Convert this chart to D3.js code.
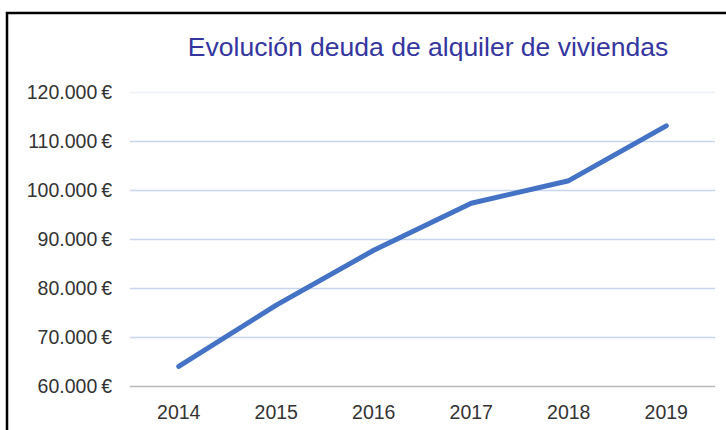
<!DOCTYPE html>
<html>
<head>
<meta charset="utf-8">
<script src="https://cdn.jsdelivr.net/npm/d3@7"></script>
<style>
  body { margin: 0; background: #fff; }
  svg { display: block; font-family: "Liberation Sans", Arial, sans-serif; }
</style>
</head>
<body>
<div id="chart"></div>
<script>
const years = ["2014", "2015", "2016", "2017", "2018", "2019"];
const deuda = [64000, 76500, 87700, 97300, 101900, 113100];
const yTicks = [60000, 70000, 80000, 90000, 100000, 110000, 120000];
const title = "Evolución deuda de alquiler de viviendas";

const width = 726, height = 430;
const margin = {top: 92, right: 11, bottom: 44, left: 130};

const svg = d3.select("#chart").append("svg")
  .attr("width", width)
  .attr("height", height);

// frame
svg.append("path")
  .attr("d", `M7,${height} V13 H${width}`)
  .attr("fill", "none")
  .attr("stroke", "#000")
  .attr("stroke-width", 2.5);

let x = d3.scalePoint()
  .domain(years)
  .range([margin.left, width - margin.right])
  .padding(0.5);

let y = d3.scaleLinear()
  .domain([60000, 120000])
  .range([height - margin.bottom, margin.top]);

let fmt = d => d3.format(",")(d).replace(/,/g, ".") + "\u2009€";

// grid
svg.append("g")
  .selectAll("line")
  .data(yTicks)
  .enter()
  .append("line")
  .attr("x1", margin.left)
  .attr("x2", width - margin.right)
  .attr("y1", d => Math.round(y(d)) + 0.5)
  .attr("y2", d => Math.round(y(d)) + 0.5)
  .attr("stroke", d => d == 60000 ? "#b8b8b8" : d == 120000 ? "#eef1f8" : "#c8d5ee")
  .attr("stroke-width", 1.5);

// y labels
svg.append("g")
  .selectAll("text")
  .data(yTicks)
  .enter()
  .append("text")
  .attr("x", 112)
  .attr("y", d => y(d))
  .attr("dy", "0.36em")
  .attr("text-anchor", "end")
  .attr("font-size", 19.5)
  .attr("fill", "#333")
  .text(fmt);

// x labels
svg.append("g")
  .selectAll("text")
  .data(years)
  .enter()
  .append("text")
  .attr("x", d => x(d))
  .attr("y", 419)
  .attr("text-anchor", "middle")
  .attr("font-size", 19.5)
  .attr("fill", "#333")
  .text(d => d);

// line
let line = d3.line()
  .x((d, i) => x(years[i]))
  .y(d => y(d));

svg.append("path")
  .datum(deuda)
  .attr("d", line)
  .attr("fill", "none")
  .attr("stroke", "#4472c4")
  .attr("stroke-width", 5)
  .attr("stroke-linecap", "round")
  .attr("stroke-linejoin", "round");

// title
svg.append("text")
  .attr("x", 428)
  .attr("y", 56)
  .attr("text-anchor", "middle")
  .attr("font-size", 26.5)
  .attr("fill", "#3535a0")
  .text(title);
</script>
</body>
</html>
